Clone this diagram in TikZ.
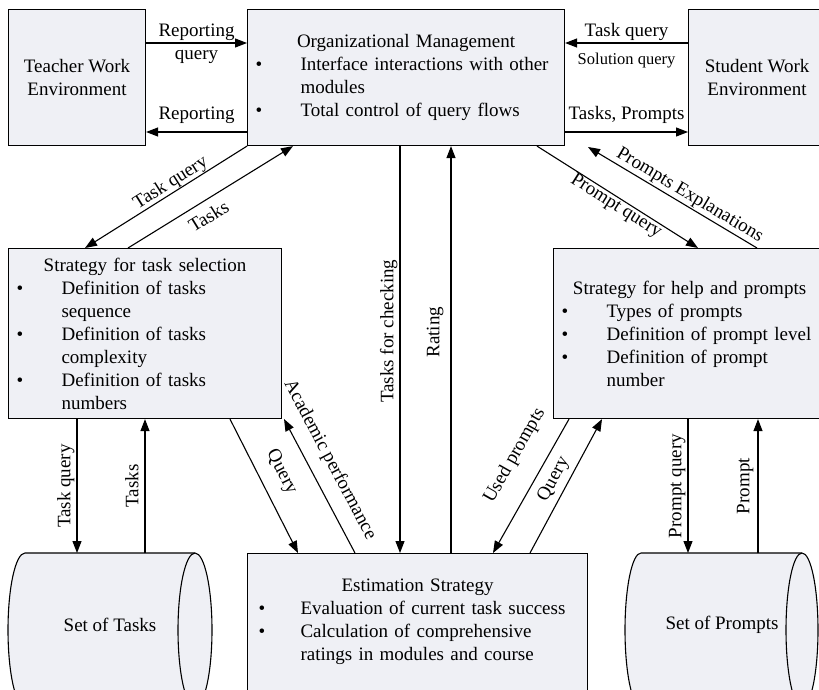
\documentclass[tikz,border=0pt]{standalone}
\usepackage{fontspec}
\setmainfont{Liberation Serif}
\usetikzlibrary{arrows.meta}
\definecolor{boxfill}{RGB}{239,240,245}
\setlength{\parindent}{0pt}
\newcommand{\dfont}{\fontsize{19}{23}\selectfont}
\newcommand{\lblsmall}{\fontsize{16.5}{20}\selectfont}
\newlength{\bulind}\setlength{\bulind}{45pt}
\newcommand{\bitem}[2][0pt]{\par\hangindent=\bulind\hangafter=1\noindent\makebox[\bulind][l]{\hspace{#1}\textbullet}#2}
\newcommand{\brk}{\hfil\break}
\tikzset{
  box/.style={draw=black, line width=1.1pt, fill=boxfill, inner xsep=8pt, inner ysep=0pt, font=\dfont, anchor=north west},
  conn/.style={line width=1.1pt, -{Triangle[length=12pt,width=9pt]}},
  lab/.style={font=\dfont, inner sep=#1}, lab/.default=2pt,
  labs/.style={font=\lblsmall, inner sep=#1}, labs/.default=2pt,
  vlab/.style={font=\dfont, inner sep=#1, rotate=90, anchor=south}, vlab/.default=2pt,
  cyl/.style={draw=black, line width=1.1pt, fill=boxfill}
}
\begin{document}
\begin{tikzpicture}[x=1pt,y=-1pt]
\useasboundingbox (0,0) rectangle (819,689);
\clip (0,0) rectangle (819,689);

% boxes
\node[box, minimum width=137pt, minimum height=136pt, align=center] (teacher) at (8,9) {Teacher Work\\Environment};
\node[box, text width=301pt, minimum height=136pt, align=left] (org) at (247,9)
  {{\centering Organizational Management\par}\bitem{Interface interactions with other\brk modules}\bitem{Total control of query flows}\par};
\node[box, minimum width=137pt, minimum height=136pt, align=center] (student) at (688,9) {Student Work\\Environment};
\node[box, text width=257pt, minimum height=170pt, align=left] (task) at (8,248)
  {{\centering Strategy for task selection\par}\bitem{Definition of tasks\brk sequence}\bitem{Definition of tasks\brk complexity}\bitem{Definition of tasks\brk numbers}\par};
\node[box, text width=256pt, minimum height=170pt, align=left] (help) at (553,248)
  {{\centering Strategy for help and prompts\par}\bitem{Types of prompts}\bitem{Definition of prompt level}\bitem{Definition of prompt\brk number}\par};
\node[box, text width=324pt, minimum height=137pt, align=left] (est) at (247,553)
  {{\centering Estimation Strategy\par}\bitem[3pt]{Evaluation of current task success}\bitem[3pt]{Calculation of comprehensive\brk ratings in modules and course}\par};

% cylinders
\path[cyl] (195,553) -- (25,553) arc[start angle=270, end angle=90, x radius=17, y radius=77]
  -- (195,707) arc[start angle=90, end angle=-90, x radius=17, y radius=77] -- cycle;
\draw[line width=1.1pt] (195,553) arc[start angle=270, end angle=90, x radius=17, y radius=77];
\node[font=\dfont] (tasksdb) at (110,625) {Set of Tasks};
\coordinate (tasksdbtop) at (0,553);

\path[cyl] (802,553) -- (641,553) arc[start angle=270, end angle=90, x radius=16, y radius=77]
  -- (802,707) arc[start angle=90, end angle=-90, x radius=16, y radius=77] -- cycle;
\draw[line width=1.1pt] (802,553) arc[start angle=270, end angle=90, x radius=16, y radius=77];
\node[font=\dfont] (promptsdb) at (722,625) {Set of Prompts};
\coordinate (promptsdbtop) at (0,553);

\coordinate (apend) at (284,419);
\coordinate (peend) at (588,147);

% top horizontal connectors
\draw[conn] (teacher.east |- 0,43) -- node[lab=2pt, above]{Reporting} node[lab=7pt, below]{query} (org.west |- 0,43);
\draw[conn] (org.west |- 0,132) -- node[lab=8pt, above]{Reporting} (teacher.east |- 0,132);
\draw[conn] (student.west |- 0,43) -- node[lab=2pt, above]{Task query} node[labs=9pt, below]{Solution query} (org.east |- 0,43);
\draw[conn] (org.east |- 0,132) -- node[lab=8pt, above]{Tasks, Prompts} (student.west |- 0,132);

% org <-> task
\draw[conn] (org.south west) -- node[lab=0pt, sloped, above, pos=0.44]{Task query} (85,0 |- task.north);
\draw[conn] (128,0 |- task.north) -- node[lab=8pt, sloped, below, pos=0.44]{Tasks} (293,0 |- org.south);

% org <-> est
\draw[conn] (400,0 |- org.south) -- node[vlab=2pt, pos=0.455]{Tasks for checking} (400,0 |- est.north);
\draw[conn] (451,0 |- est.north) -- node[vlab=7pt, pos=0.543]{Rating} (451,0 |- org.south);

% org <-> help
\draw[conn] (537,0 |- org.south) -- node[lab=0pt, sloped, below, pos=0.52]{Prompt query} (698,0 |- help.north);
\draw[conn] (757,0 |- help.north) -- node[lab=1.5pt, sloped, above, pos=0.43]{Prompts Explanations} (peend);

% task <-> set of tasks
\draw[conn] (77,0 |- task.south) -- node[vlab=2pt, pos=0.5]{Task query} (77,0 |- tasksdbtop);
\draw[conn] (145,0 |- tasksdbtop) -- node[vlab=6pt, pos=0.5]{Tasks} (145,0 |- task.south);

% task <-> est
\draw[conn] (230,0 |- task.south) -- node[lab=13pt, sloped, above, pos=0.47]{Query} (298,0 |- est.north);
\draw[conn] (355,0 |- est.north) -- node[lab=12pt, sloped, above, pos=0.62]{Academic performance} (apend);

% help <-> est
\draw[conn] (569,0 |- help.south) -- node[lab=20pt, sloped, above, pos=0.38]{Used prompts} (493,0 |- est.north);
\draw[conn] (530,0 |- est.north) -- node[lab=5pt, sloped, above, pos=0.5]{Query} (602,0 |- help.south);

% help <-> set of prompts
\draw[conn] (688,0 |- help.south) -- node[vlab=2pt, pos=0.5]{Prompt query} (688,0 |- promptsdbtop);
\draw[conn] (758,0 |- promptsdbtop) -- node[vlab=4pt, pos=0.5]{Prompt} (758,0 |- help.south);
\end{tikzpicture}
\end{document}
